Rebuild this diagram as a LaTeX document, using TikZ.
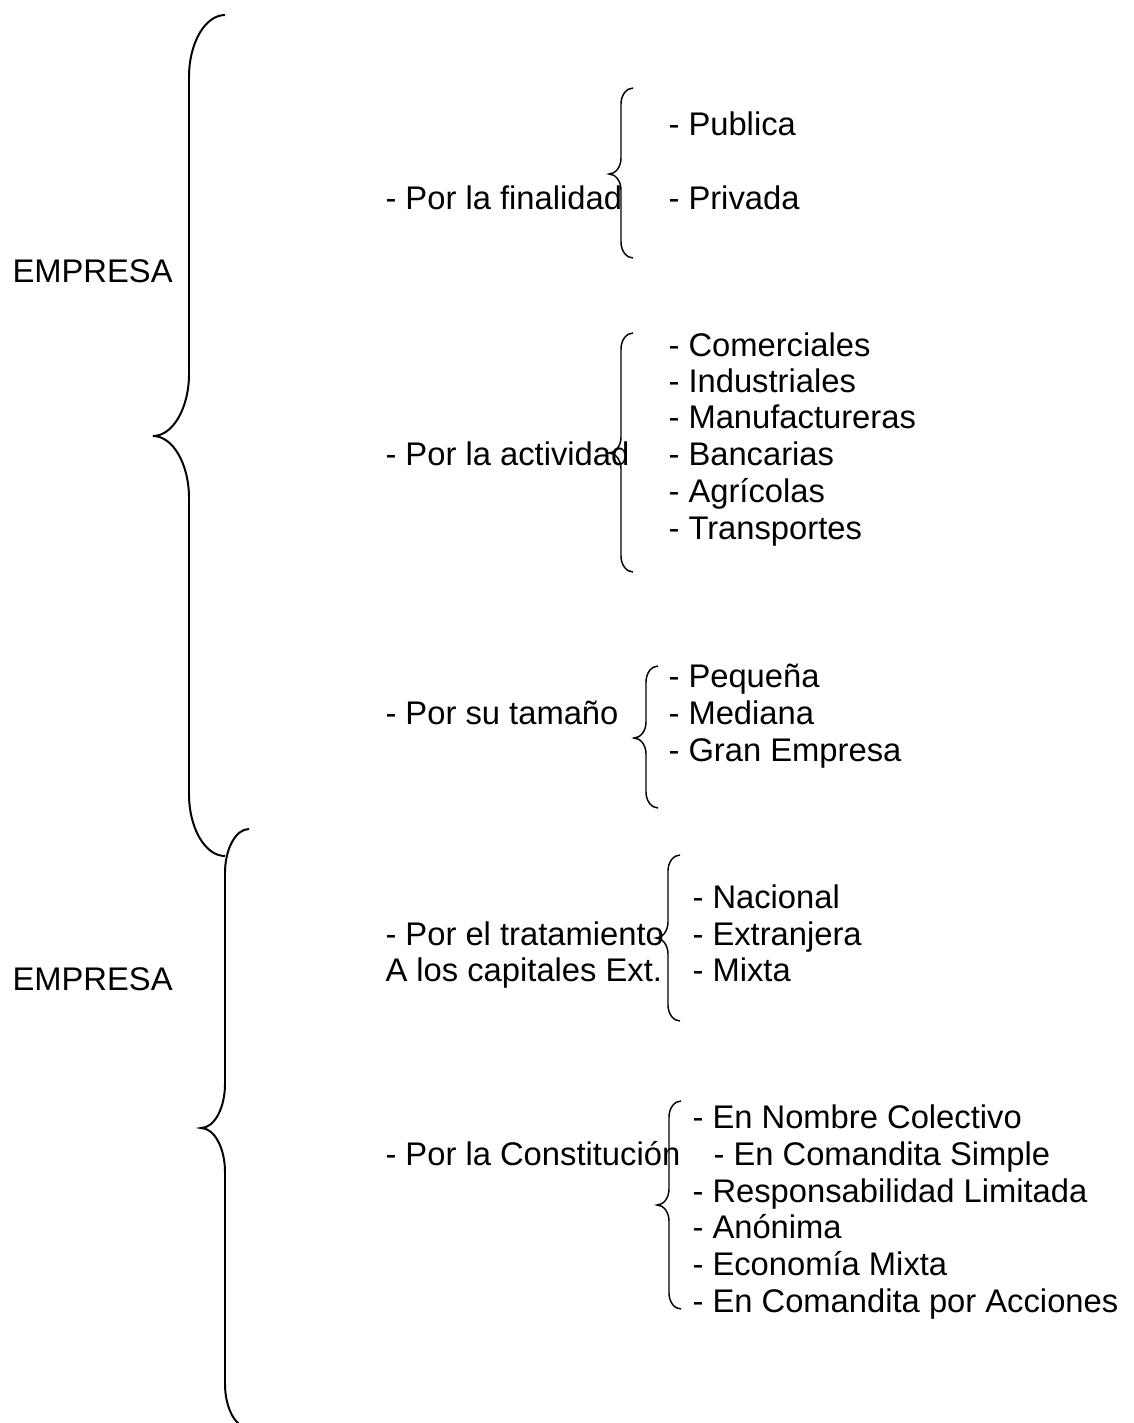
\documentclass[tikz,border=0pt]{standalone}
\usepackage{fontspec}
\setmainfont{Liberation Sans}
\tikzset{
  txt/.style={anchor=base west, inner sep=0pt, font=\fontsize{12.4}{14}\selectfont},
  llave/.style={line width=0.55pt},
  llavegrande/.style={line width=0.75pt}
}
% llave: #1 estilo, #2 x vertical, #3 y arriba, #4 y punta, #5 y abajo, #6 ancho, #7 alto de curva
\newcommand\llave[7]{%
  \draw[#1] ({#2+#6},#3) .. controls ({#2+0.45*#6},#3) and (#2,{#3+0.45*#7}) .. (#2,{#3+#7})
    -- (#2,{#4-#7}) .. controls (#2,{#4-0.45*#7}) and ({#2-0.45*#6},#4) .. ({#2-#6},#4)
    .. controls ({#2-0.45*#6},#4) and (#2,{#4+0.45*#7}) .. (#2,{#4+#7})
    -- (#2,{#5-#7}) .. controls (#2,{#5-0.45*#7}) and ({#2+0.45*#6},#5) .. ({#2+#6},#5);}
\begin{document}
\begin{tikzpicture}[x=0.3788pt, y=-0.3788pt]
    \useasboundingbox (0,0) rectangle (1134,1423);

    % llaves grandes
    \llave{llavegrande}{189}{15}{436}{856}{36}{62}
    \llave{llavegrande}{225}{829}{1128}{1428}{24}{44}

    % EMPRESA
    \node[txt] (emp1) at (12,282) {EMPRESA};
    \node[txt] (emp2) at (12,990) {EMPRESA};

    % Por la finalidad
    \node[txt] (fin) at (385,209) {- Por la finalidad};
    \llave{llave}{621}{88}{174}{258}{12}{16}
    \node[txt] (pub) at (668,135) {- Publica};
    \node[txt] (pri) at (668,209) {- Privada};

    % Por la actividad
    \node[txt] (act) at (385,465) {- Por la actividad};
    \llave{llave}{621}{333}{453}{572}{12}{16}
    \node[txt] (com) at (668,356) {- Comerciales};
    \node[txt] (ind) at (668,392) {- Industriales};
    \node[txt] (man) at (668,428) {- Manufactureras};
    \node[txt] (ban) at (668,465) {- Bancarias};
    \node[txt] (agr) at (668,502) {- Agrícolas};
    \node[txt] (tra) at (668,539) {- Transportes};

    % Por su tamaño
    \node[txt] (tam) at (385,724) {- Por su tamaño};
    \llave{llave}{646}{666}{738}{808}{12}{16}
    \node[txt] (peq) at (668,687) {- Pequeña};
    \node[txt] (med) at (668,724) {- Mediana};
    \node[txt] (gra) at (668,761) {- Gran Empresa};

    % Por el tratamiento
    \node[txt] (trat) at (385,945) {- Por el tratamiento};
    \node[txt] (cap) at (385,981) {A los capitales Ext.};
    \llave{llave}{668}{855}{938}{1021}{12}{16}
    \node[txt] (nac) at (692,908) {- Nacional};
    \node[txt] (ext) at (692,945) {- Extranjera};
    \node[txt] (mix) at (692,981) {- Mixta};

    % Por la Constitución
    \node[txt] (cons) at (385,1165) {- Por la Constitución};
    \llave{llave}{669}{1101}{1205}{1309}{12}{16}
    \node[txt] (col) at (692,1128) {- En Nombre Colectivo};
    \node[txt] (sim) at (713,1165) {- En Comandita Simple};
    \node[txt] (res) at (692,1202) {- Responsabilidad Limitada};
    \node[txt] (ano) at (692,1238) {- Anónima};
    \node[txt] (eco) at (692,1275) {- Economía Mixta};
    \node[txt] (acc) at (692,1312) {- En Comandita por Acciones};
\end{tikzpicture}
\end{document}
